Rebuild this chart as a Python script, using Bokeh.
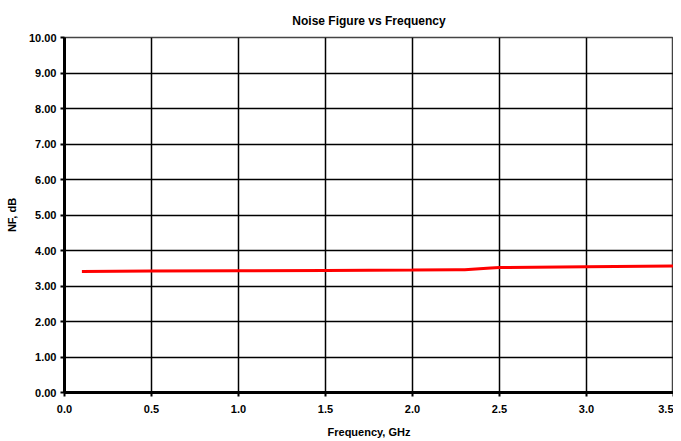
from bokeh.plotting import figure
from bokeh.models import FixedTicker, Range1d, CustomJSTickFormatter
from bokeh.embed import file_html
from bokeh.resources import INLINE

freq = [0.1, 0.5, 1.0, 1.5, 2.0, 2.25, 2.3, 2.45, 2.5, 3.0, 3.5]
nf = [3.41, 3.42, 3.43, 3.44, 3.45, 3.46, 3.455, 3.51, 3.52, 3.545, 3.56]
x_ticks = [0.0, 0.5, 1.0, 1.5, 2.0, 2.5, 3.0, 3.5]
y_ticks = [0, 1, 2, 3, 4, 5, 6, 7, 8, 9, 10]

p = figure(width=673, height=440, output_backend="svg", toolbar_location=None,
           x_range=Range1d(0, 3.5), y_range=Range1d(0, 10),
           min_border_left=64, min_border_right=0, min_border_top=37, min_border_bottom=45,
           title="Noise Figure vs Frequency")
p.title.align = "center"
p.title.text_font = "Liberation Sans"
p.title.text_font_size = "12px"
p.title.text_font_style = "bold"
p.title.text_color = "black"
p.title.offset = 0
p.title.standoff = 19

p.line(freq, nf, line_color="#ff0000", line_width=3)

p.xaxis.ticker = FixedTicker(ticks=x_ticks)
p.yaxis.ticker = FixedTicker(ticks=y_ticks)
p.xaxis.formatter = CustomJSTickFormatter(code="return tick.toFixed(1);")
p.yaxis.formatter = CustomJSTickFormatter(code="return tick.toFixed(2);")
for ax in (p.xaxis, p.yaxis):
    ax.major_label_text_font = "Liberation Sans"
    ax.major_label_text_font_size = "11px"
    ax.major_label_text_font_style = "bold"
    ax.major_label_text_color = "black"
    ax.axis_label_text_font = "Liberation Sans"
    ax.axis_label_text_font_size = "11px"
    ax.axis_label_text_font_style = "bold"
    ax.axis_label_text_color = "black"
    ax.axis_line_width = 3
    ax.axis_line_color = "black"
    ax.major_tick_line_color = "black"
    ax.major_tick_line_width = 2
    ax.major_tick_out = 4
    ax.major_tick_in = 0
    ax.minor_tick_line_color = None
p.xaxis.axis_label = "Frequency, GHz"
p.yaxis.axis_label = "NF, dB"
p.xaxis.axis_label_standoff = 10
p.yaxis.axis_label_standoff = 8
p.xaxis.major_label_standoff = 8
p.yaxis.major_label_standoff = 4

p.grid.grid_line_color = "black"
p.grid.grid_line_width = 1.5
p.grid.grid_line_alpha = 1
p.outline_line_color = "#444444"
p.outline_line_width = 1.5
p.background_fill_color = "white"
p.border_fill_color = "white"

open("out.html", "w").write(file_html(p, INLINE))
